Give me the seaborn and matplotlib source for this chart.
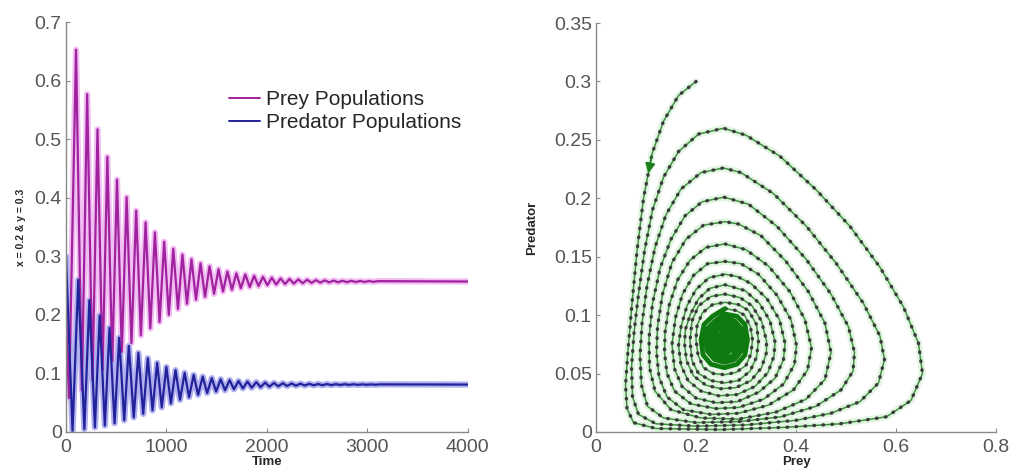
import numpy as np
import pandas as pd
import matplotlib
matplotlib.use("Agg")
import matplotlib.pyplot as plt
from matplotlib import ticker
import seaborn as sns

# ---------------------------------------------------------------
# time series (extrema of every cycle)
# ---------------------------------------------------------------
prey_start = 0.2
pred_start = 0.3
prey_eq = 0.257
pred_eq = 0.081
t_end = 4000

prey_peak_t = [100, 211, 314, 412, 508, 604, 699, 793, 886, 978, 1069, 1160, 1250, 1340,
               1430, 1519, 1608, 1697, 1786, 1874, 1962, 2050, 2138, 2226, 2314, 2402,
               2490, 2578, 2666, 2754, 2842, 2930, 3018, 3106]
prey_peak = [0.653, 0.577, 0.517, 0.470, 0.431, 0.401, 0.378, 0.358, 0.341, 0.325, 0.313,
             0.303, 0.295, 0.288, 0.283, 0.278, 0.274, 0.271, 0.269, 0.2667, 0.265, 0.2635,
             0.2623, 0.2614, 0.2606, 0.260, 0.2594, 0.259, 0.2586, 0.2583, 0.2581, 0.2579,
             0.2578, 0.2576]
prey_trough_t = [30, 158, 264, 364, 461, 556, 652, 746, 840, 932, 1024, 1115, 1205, 1295,
                 1385, 1475, 1564, 1653, 1742, 1830, 1918, 2006, 2094, 2182, 2270, 2358,
                 2446, 2534, 2622, 2710, 2798, 2886, 2974, 3062]
prey_trough = [0.058, 0.071, 0.088, 0.105, 0.121, 0.137, 0.152, 0.165, 0.177, 0.188, 0.200,
               0.210, 0.219, 0.226, 0.231, 0.236, 0.240, 0.243, 0.2455, 0.2476, 0.2493,
               0.2507, 0.2518, 0.2527, 0.2535, 0.2541, 0.2546, 0.2551, 0.2554, 0.2557,
               0.2559, 0.2561, 0.2563, 0.2564]

pred_peak_t = [122, 233, 336, 434, 530, 626, 721, 815, 908, 1000, 1091, 1182, 1272, 1362,
               1452, 1541, 1630, 1719, 1808, 1896, 1984, 2072, 2160, 2248, 2336, 2424,
               2512, 2600, 2688, 2776, 2864, 2952, 3040, 3128]
pred_peak = [0.260, 0.225, 0.199, 0.178, 0.161, 0.147, 0.135, 0.126, 0.118, 0.111, 0.1056,
             0.101, 0.0975, 0.0945, 0.092, 0.090, 0.0885, 0.0871, 0.086, 0.0851, 0.0844,
             0.0838, 0.0833, 0.0829, 0.0825, 0.0823, 0.082, 0.0819, 0.0817, 0.0816, 0.0815,
             0.0814, 0.0813, 0.0813]
pred_trough_t = [65, 183, 288, 387, 484, 580, 675, 769, 862, 954, 1045, 1136, 1226, 1316,
                 1406, 1495, 1584, 1673, 1762, 1850, 1938, 2026, 2114, 2202, 2290, 2378,
                 2466, 2554, 2642, 2730, 2818, 2906, 2994, 3082]
pred_trough = [0.002, 0.005, 0.008, 0.011, 0.015, 0.020, 0.025, 0.031, 0.037, 0.042, 0.049,
               0.055, 0.0595, 0.0634, 0.0666, 0.0692, 0.0713, 0.073, 0.0745, 0.0756, 0.0766,
               0.0774, 0.078, 0.0786, 0.079, 0.0794, 0.0797, 0.0799, 0.0801, 0.0803, 0.0804,
               0.0805, 0.0806, 0.0807]

# ---------------------------------------------------------------
# phase portrait (points along the spiral)
# outer loops are drawn as dotted rings, the inner ones merge into a blob
# ---------------------------------------------------------------
outer_prey = [
    0.200, 0.165, 0.135, 0.112, 0.095, 0.082, 0.072, 0.064, 0.059, 0.062, 0.075, 0.120, 0.250,
    0.380, 0.488, 0.581, 0.630, 0.653, 0.645, 0.615, 0.568, 0.508, 0.441, 0.368, 0.300, 0.255,
    0.205, 0.165, 0.135, 0.113, 0.097, 0.085, 0.076, 0.071, 0.073, 0.085, 0.120, 0.200, 0.300,
    0.400, 0.470, 0.528, 0.565, 0.577, 0.568, 0.535, 0.481, 0.421, 0.355, 0.290, 0.255,
    0.210, 0.170, 0.140, 0.118, 0.102, 0.092, 0.088, 0.091, 0.103, 0.135, 0.200, 0.290, 0.370,
    0.440, 0.490, 0.514, 0.517, 0.505, 0.470, 0.420, 0.362, 0.305, 0.256,
    0.212, 0.178, 0.150, 0.128, 0.113, 0.106, 0.107, 0.118, 0.150, 0.210, 0.285, 0.360, 0.420,
    0.458, 0.470, 0.458, 0.425, 0.380, 0.330, 0.285, 0.258,
    0.215, 0.180, 0.152, 0.133, 0.123, 0.121, 0.126, 0.142, 0.175, 0.230, 0.285, 0.345, 0.395,
    0.423, 0.431, 0.418, 0.388, 0.345, 0.300, 0.258,
    0.220, 0.188, 0.163, 0.146, 0.138, 0.137, 0.142, 0.157, 0.190, 0.240, 0.285, 0.335, 0.375,
    0.397, 0.401, 0.390, 0.362, 0.325, 0.290, 0.258,
    0.223, 0.195, 0.173, 0.159, 0.152, 0.157, 0.172, 0.200, 0.240, 0.283, 0.325, 0.358, 0.375,
    0.378, 0.367, 0.342, 0.310, 0.283, 0.258,
    0.226, 0.200, 0.182, 0.170, 0.165, 0.170, 0.184, 0.210, 0.245, 0.282, 0.318, 0.344, 0.356,
    0.358, 0.348, 0.327, 0.298, 0.258,
    0.228, 0.205, 0.189, 0.179, 0.177, 0.181, 0.195, 0.220, 0.250, 0.280, 0.310, 0.331, 0.341,
    0.341, 0.331, 0.312, 0.288, 0.258,
    0.230, 0.205, 0.192, 0.188, 0.192, 0.205, 0.230, 0.257, 0.285, 0.308, 0.321, 0.325, 0.321,
    0.305, 0.285, 0.258,
    0.233, 0.213, 0.202, 0.200, 0.204, 0.215, 0.235, 0.257, 0.280, 0.300, 0.310, 0.313, 0.309,
    0.297, 0.280, 0.258,
]
outer_pred = [
    0.300, 0.288, 0.266, 0.238, 0.200, 0.155, 0.110, 0.070, 0.040, 0.020, 0.008, 0.003, 0.002,
    0.004, 0.007, 0.013, 0.027, 0.050, 0.076, 0.107, 0.141, 0.176, 0.207, 0.236, 0.254, 0.260,
    0.255, 0.240, 0.218, 0.190, 0.155, 0.118, 0.085, 0.055, 0.030, 0.015, 0.007, 0.005, 0.006,
    0.010, 0.016, 0.026, 0.042, 0.062, 0.082, 0.110, 0.144, 0.176, 0.204, 0.222, 0.226,
    0.222, 0.208, 0.186, 0.158, 0.125, 0.093, 0.065, 0.040, 0.022, 0.012, 0.008, 0.009, 0.013,
    0.022, 0.036, 0.052, 0.068, 0.090, 0.118, 0.148, 0.176, 0.195, 0.201,
    0.197, 0.185, 0.165, 0.140, 0.110, 0.080, 0.055, 0.035, 0.019, 0.012, 0.011, 0.017, 0.028,
    0.045, 0.068, 0.093, 0.120, 0.146, 0.168, 0.178, 0.180,
    0.177, 0.165, 0.145, 0.118, 0.090, 0.068, 0.047, 0.030, 0.019, 0.015, 0.016, 0.023, 0.036,
    0.053, 0.072, 0.096, 0.120, 0.142, 0.156, 0.161,
    0.158, 0.147, 0.130, 0.108, 0.085, 0.068, 0.050, 0.035, 0.024, 0.020, 0.021, 0.028, 0.041,
    0.058, 0.074, 0.096, 0.117, 0.135, 0.144, 0.146,
    0.144, 0.134, 0.118, 0.098, 0.075, 0.054, 0.039, 0.029, 0.025, 0.026, 0.034, 0.046, 0.062,
    0.076, 0.096, 0.114, 0.127, 0.133, 0.135,
    0.132, 0.122, 0.108, 0.090, 0.074, 0.057, 0.044, 0.035, 0.031, 0.032, 0.039, 0.051, 0.065,
    0.077, 0.095, 0.110, 0.121, 0.126,
    0.123, 0.114, 0.101, 0.088, 0.076, 0.061, 0.048, 0.040, 0.037, 0.038, 0.044, 0.055, 0.068,
    0.078, 0.095, 0.108, 0.115, 0.118,
    0.116, 0.108, 0.095, 0.078, 0.061, 0.050, 0.044, 0.042, 0.044, 0.052, 0.064, 0.078, 0.092,
    0.104, 0.109, 0.111,
    0.109, 0.102, 0.091, 0.079, 0.066, 0.055, 0.050, 0.049, 0.051, 0.057, 0.067, 0.079, 0.090,
    0.100, 0.104, 0.1056,
]
inner_prey = [
    0.258,
    0.233, 0.216, 0.210, 0.214, 0.230, 0.257, 0.282, 0.298, 0.303, 0.298, 0.282, 0.258,
    0.238, 0.224, 0.219, 0.223, 0.237, 0.257, 0.277, 0.290, 0.295, 0.290, 0.277, 0.258,
    0.242, 0.230, 0.226, 0.230, 0.241, 0.257, 0.273, 0.284, 0.288, 0.284, 0.273, 0.258,
    0.236, 0.231, 0.237, 0.257, 0.275, 0.283, 0.275, 0.258,
    0.240, 0.236, 0.241, 0.257, 0.271, 0.278, 0.271, 0.258,
    0.243, 0.240, 0.244, 0.257, 0.268, 0.274, 0.268, 0.258,
    0.2455, 0.257, 0.271, 0.258,
    0.2476, 0.257, 0.269, 0.258,
    0.2493, 0.257, 0.2667, 0.258,
    0.257,
]
inner_pred = [
    0.1056,
    0.099, 0.092, 0.079, 0.066, 0.058, 0.055, 0.058, 0.066, 0.079, 0.092, 0.099, 0.101,
    0.095, 0.089, 0.080, 0.069, 0.062, 0.0595, 0.062, 0.069, 0.080, 0.089, 0.095, 0.0975,
    0.092, 0.087, 0.080, 0.071, 0.065, 0.0634, 0.065, 0.071, 0.080, 0.088, 0.093, 0.0945,
    0.090, 0.080, 0.070, 0.0666, 0.071, 0.080, 0.088, 0.092,
    0.088, 0.080, 0.072, 0.0692, 0.073, 0.080, 0.087, 0.090,
    0.087, 0.080, 0.073, 0.0713, 0.074, 0.080, 0.086, 0.0885,
    0.080, 0.073, 0.080, 0.087,
    0.080, 0.0745, 0.080, 0.086,
    0.080, 0.0756, 0.080, 0.0851,
    0.081,
]

x_ticks_left = [0, 1000, 2000, 3000, 4000]
y_ticks_left = [0, 0.1, 0.2, 0.3, 0.4, 0.5, 0.6, 0.7]
x_ticks_right = [0, 0.2, 0.4, 0.6, 0.8]
y_ticks_right = [0, 0.05, 0.1, 0.15, 0.2, 0.25, 0.3, 0.35]


def interleave(a, b):
    return [v for pair in zip(a, b) for v in pair]


prey_df = pd.DataFrame({
    "t": [0] + interleave(prey_trough_t, prey_peak_t) + [t_end],
    "v": [prey_start] + interleave(prey_trough, prey_peak) + [prey_eq],
})
pred_df = pd.DataFrame({
    "t": [0] + interleave(pred_trough_t, pred_peak_t) + [t_end],
    "v": [pred_start] + interleave(pred_trough, pred_peak) + [pred_eq],
})
outer_df = pd.DataFrame({"prey": outer_prey, "pred": outer_pred})
inner_df = pd.DataFrame({"prey": inner_prey, "pred": inner_pred})
whole_df = pd.concat([outer_df, inner_df], ignore_index=True)

# ---------------------------------------------------------------
# style
# ---------------------------------------------------------------
sns.set_style("ticks", {"xtick.direction": "in", "ytick.direction": "in"})
plt.rcParams["font.family"] = ["Liberation Sans", "DejaVu Sans"]
plt.rcParams["axes.edgecolor"] = "#8a8a8a"
plt.rcParams["xtick.color"] = "#8a8a8a"
plt.rcParams["ytick.color"] = "#8a8a8a"
plt.rcParams["xtick.labelcolor"] = "#555555"
plt.rcParams["ytick.labelcolor"] = "#555555"

fig = plt.figure(figsize=(10.09, 4.70), dpi=100)
ax1 = fig.add_axes([0.0654, 0.0809, 0.398, 0.872])
ax2 = fig.add_axes([0.5907, 0.0809, 0.3964, 0.870])

# left: populations over time
sns.lineplot(data=prey_df, x="t", y="v", ax=ax1, sort=False, estimator=None,
             color="#f2bdf2", lw=4.5, legend=False)
sns.lineplot(data=pred_df, x="t", y="v", ax=ax1, sort=False, estimator=None,
             color="#b0b0ee", lw=4.5, legend=False)
sns.lineplot(data=prey_df, x="t", y="v", ax=ax1, sort=False, estimator=None,
             color="#a0229f", lw=1.6, label="Prey Populations")
sns.lineplot(data=pred_df, x="t", y="v", ax=ax1, sort=False, estimator=None,
             color="#22229a", lw=1.6, label="Predator Populations")

ax1.set_xlim(0, 4000)
ax1.set_ylim(0, 0.7)
ax1.set_xticks(x_ticks_left)
ax1.set_yticks(y_ticks_left)
ax1.set_xlabel("Time", fontsize=9.5, fontweight="bold", labelpad=0)
ax1.set_ylabel("x = 0.2 & y = 0.3", fontsize=7.5, fontweight="bold", labelpad=6)
leg = ax1.legend(loc="upper left", bbox_to_anchor=(0.385, 0.855), frameon=False,
                 fontsize=15, handlelength=1.5, handletextpad=0.3, labelspacing=0.2,
                 borderaxespad=0)
for line in leg.get_lines():
    line.set_linewidth(1.4)

# right: phase portrait
sns.lineplot(data=whole_df, x="prey", y="pred", ax=ax2, sort=False, estimator=None,
             color="#e2f4e2", lw=5, legend=False)
sns.lineplot(data=outer_df, x="prey", y="pred", ax=ax2, sort=False, estimator=None,
             color="#3f913f", lw=1.1, legend=False)
sns.lineplot(data=outer_df, x="prey", y="pred", ax=ax2, sort=False, estimator=None,
             color="#3a3a3a", lw=2.4, linestyle=(0, (0.2, 2.5)),
             dash_capstyle="round", legend=False)
sns.lineplot(data=inner_df, x="prey", y="pred", ax=ax2, sort=False, estimator=None,
             color="#0f7a0f", lw=3.4, legend=False)
# direction arrow on the first stretch of the trajectory
ax2.annotate("", xy=((outer_prey[3] + outer_prey[4]) / 2, (outer_pred[3] + outer_pred[4]) / 2),
             xytext=(outer_prey[3], outer_pred[3]),
             arrowprops=dict(arrowstyle="-|>", color="#1d7f1d", lw=1.2, mutation_scale=15))

ax2.set_xlim(0, 0.8)
ax2.set_ylim(0, 0.35)
ax2.set_xticks(x_ticks_right)
ax2.set_yticks(y_ticks_right)
ax2.set_xlabel("Prey", fontsize=9.5, fontweight="bold", labelpad=0)
ax2.set_ylabel("Predator", fontsize=9.5, fontweight="bold", labelpad=11)

for ax in (ax1, ax2):
    sns.despine(ax=ax)
    ax.xaxis.set_major_formatter(ticker.FormatStrFormatter("%g"))
    ax.yaxis.set_major_formatter(ticker.FormatStrFormatter("%g"))
    ax.tick_params(labelsize=14, length=3, width=0.8)
    ax.tick_params(axis="x", pad=5)
    ax.tick_params(axis="y", pad=3)
    ax.spines["left"].set_linewidth(1.0)
    ax.spines["bottom"].set_linewidth(1.0)

fig.savefig("out.png", dpi=100)
